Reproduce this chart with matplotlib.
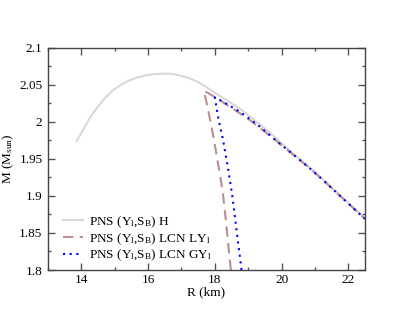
import matplotlib
matplotlib.use("Agg")
import matplotlib.pyplot as plt
from matplotlib.ticker import MultipleLocator, FuncFormatter

plt.rcParams['font.family'] = ['Liberation Serif', 'DejaVu Serif']
plt.rcParams['mathtext.fontset'] = 'custom'
plt.rcParams['mathtext.rm'] = 'Liberation Serif'
plt.rcParams['mathtext.it'] = 'Liberation Serif:italic'

# Data
H_R = [13.86, 14.05, 14.25, 14.45, 14.65, 14.90, 15.15, 15.40, 15.65, 15.95, 16.24, 16.50,
       16.74, 17.00, 17.24, 17.50, 17.74, 18.00, 18.33, 18.60, 18.83, 19.08, 19.33, 19.58,
       19.83, 20.10, 20.40, 20.80, 21.30, 21.80, 22.30, 22.50]
H_M = [1.974, 1.989, 2.005, 2.018, 2.029, 2.041, 2.049, 2.055, 2.0595, 2.063, 2.0645, 2.065,
       2.0645, 2.062, 2.0587, 2.0535, 2.047, 2.039, 2.030, 2.022, 2.015, 2.006, 1.997, 1.988,
       1.978, 1.967, 1.955, 1.940, 1.920, 1.899, 1.878, 1.870]

LY_R = [18.48, 18.40, 18.33, 18.23, 18.08, 17.94, 17.79, 17.67, 17.79, 17.94, 18.43, 19.03,
        19.63, 20.12, 20.8, 21.3, 21.8, 22.5]
LY_M = [1.800, 1.835, 1.867, 1.908, 1.948, 1.984, 2.018, 2.042, 2.039, 2.035, 2.021, 2.003,
        1.982, 1.964, 1.939, 1.919, 1.898, 1.869]

GY_R = [18.80, 18.66, 18.53, 18.39, 18.24, 18.11, 18.00, 18.04, 18.13, 18.73, 19.28, 19.88,
        20.4, 20.8, 21.3, 21.8, 22.5]
GY_M = [1.800, 1.850, 1.898, 1.939, 1.977, 2.003, 2.033, 2.032, 2.030, 2.014, 1.996, 1.973,
        1.954, 1.939, 1.919, 1.898, 1.869]

labels = [r"PNS (Y$_{\mathrm{l}}$,S$_{\mathrm{B}}$) H",
          r"PNS (Y$_{\mathrm{l}}$,S$_{\mathrm{B}}$) LCN LY$_{\mathrm{l}}$",
          r"PNS (Y$_{\mathrm{l}}$,S$_{\mathrm{B}}$) LCN GY$_{\mathrm{l}}$"]

fig = plt.figure(figsize=(4.11, 3.18), dpi=100)
ax = fig.add_axes([48/411, 1 - 270/318, (365-48)/411, (270-47.7)/318])

ax.plot(H_R, H_M, color='#d8d8d8', lw=1.5, label=labels[0])
ax.plot(LY_R, LY_M, color='#bc8f8f', lw=1.5, ls=(0, (5, 3)), label=labels[1])
ax.plot(GY_R, GY_M, color='#0000ff', lw=1.5, ls=(0, (1, 2.2)), label=labels[2])

ax.set_xlim(13, 22.5)
ax.set_ylim(1.8, 2.1)
ax.xaxis.set_major_locator(MultipleLocator(2))
ax.xaxis.set_minor_locator(MultipleLocator(1))
ax.yaxis.set_major_locator(MultipleLocator(0.05))
ax.yaxis.set_minor_locator(MultipleLocator(0.025))
ax.yaxis.set_major_formatter(FuncFormatter(lambda v, p: f"{v:g}"))
ax.tick_params(which='both', direction='in', top=True, right=True, color='#555555',
               labelsize=9.5)
ax.tick_params(axis='x', pad=3)
ax.tick_params(axis='y', pad=4)
ax.tick_params(which='major', length=5, width=1)
ax.tick_params(which='minor', length=2.5, width=1)
for s in ax.spines.values():
    s.set_color('#444444')
    s.set_linewidth(1)

ax.set_xlabel("R (km)", fontsize=9.5, labelpad=0)
ax.set_ylabel(r"M (M$_{\mathrm{sun}}$)", fontsize=9.5, labelpad=2)

leg = ax.legend(loc='lower left', bbox_to_anchor=(0.047, 0.03), frameon=False,
                fontsize=9.5, handlelength=1.5, handletextpad=0.5, labelspacing=0.1,
                borderpad=0, borderaxespad=0)

fig.savefig("out.png", dpi=100)
